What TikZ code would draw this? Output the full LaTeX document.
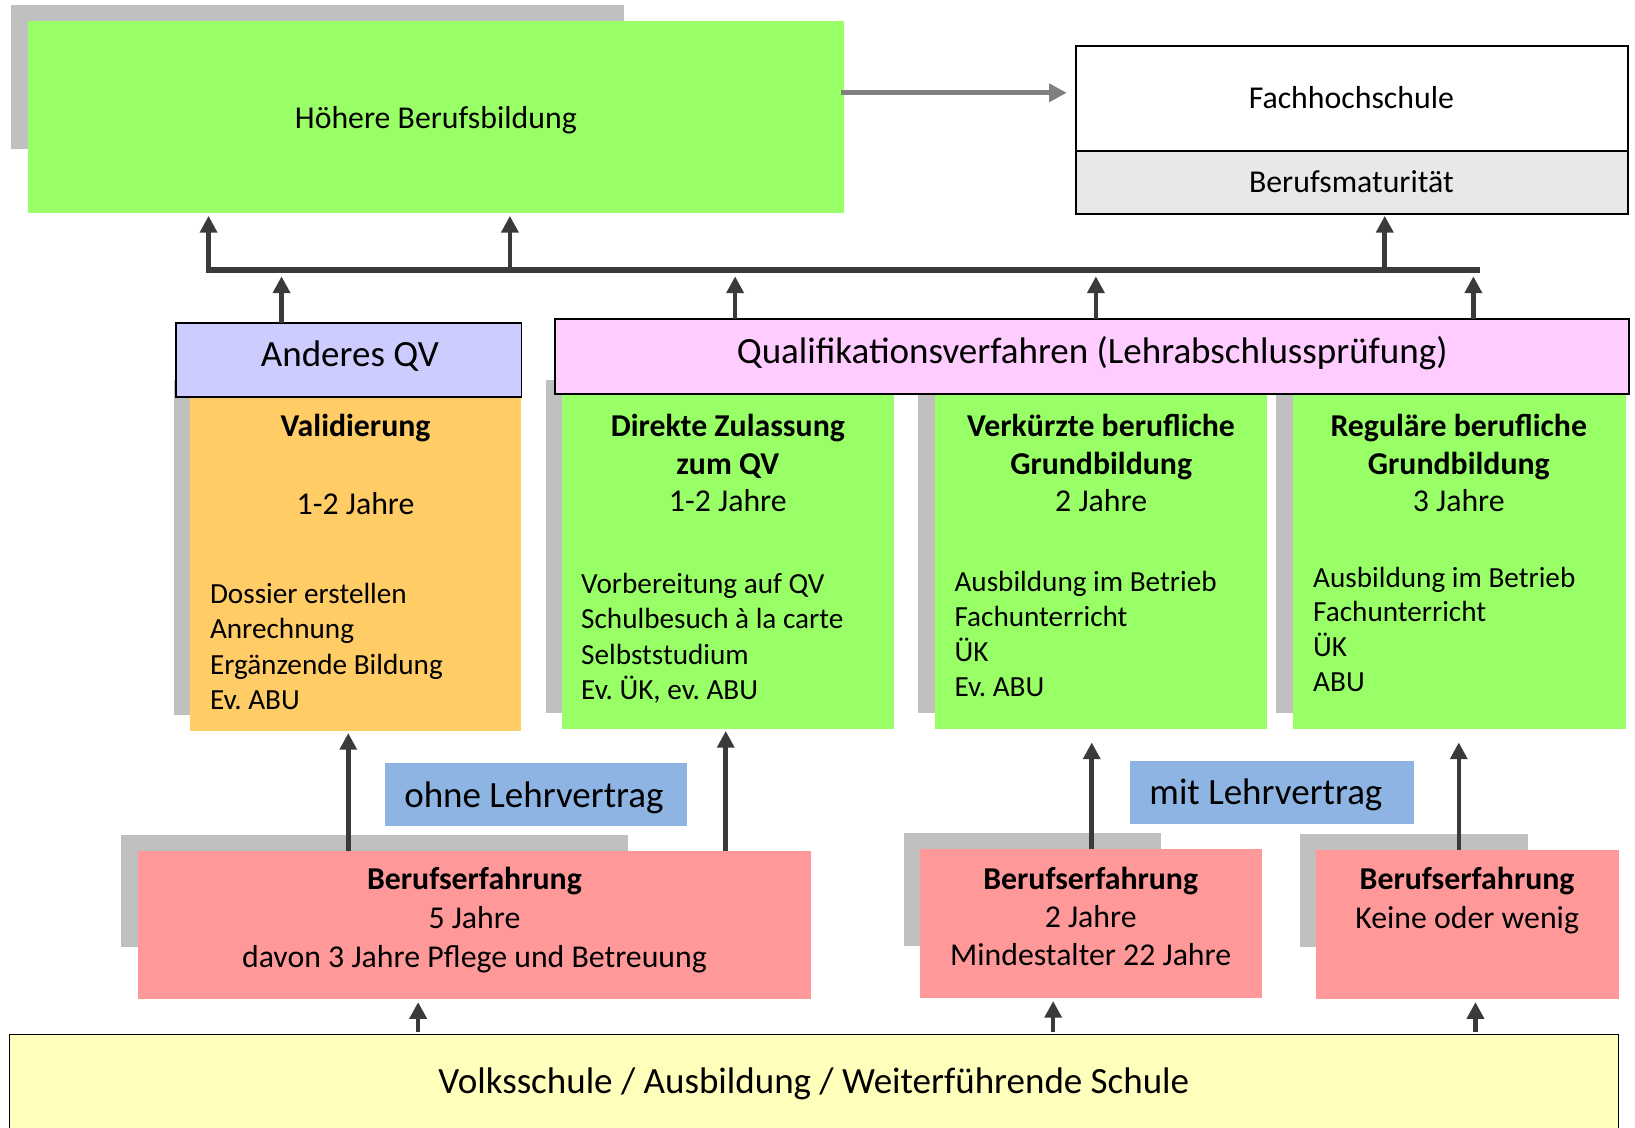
\documentclass[tikz,border=0pt]{standalone}
\usepackage{fontspec}
\setmainfont{Carlito}
\frenchspacing
\usetikzlibrary{arrows.meta,calc,fit,positioning}

\definecolor{gruen}{HTML}{99FF66}
\definecolor{ocker}{HTML}{FFCC66}
\definecolor{lila}{HTML}{CCCCFF}
\definecolor{rosa}{HTML}{FFCCFF}
\definecolor{bmgrau}{HTML}{E8E8E8}
\definecolor{hellblau}{HTML}{8EB4E3}
\definecolor{lachs}{HTML}{FF9999}
\definecolor{gelb}{HTML}{FFFFBB}
\definecolor{schatten}{HTML}{BFBFBF}
\definecolor{pfeil}{HTML}{3A3A3A}
\definecolor{pfeilgrau}{HTML}{808080}

\begin{document}
\begin{tikzpicture}[x=0.5pt,y=-0.5pt,
  feld/.style={inner sep=0pt,outer sep=0pt},
  rahmen/.style={feld,draw=black,line width=0.8pt},
  klein/.style={inner sep=0pt,font=\fontsize{14}{17}\selectfont},
  mittel/.style={inner sep=0pt,font=\fontsize{15.25}{18}\selectfont},
  gross/.style={inner sep=0pt,font=\fontsize{17.75}{21}\selectfont},
  pfeilo/.style={draw=pfeil,line width=2.2pt,-{Triangle[width=8pt,length=8pt]}},
  schiene/.style={draw=pfeil,line width=2.8pt,line cap=rect}]

  \useasboundingbox (0,0) rectangle (1568,1081);

  % schatten
  \fill[schatten] (11,5) rectangle (598,143);
  \foreach \xa/\ya/\xb/\yb in {167/364/485/686, 524/364/842/684, 880/364/1200/684,
      1224/364/1545/684, 116/801/602/908, 867/799/1113/907, 1247/800/1465/908}
    \fill[schatten] (\xa,\ya) rectangle (\xb,\yb);

  % oben
  \node[feld,fill=gruen,fit={(27,20) (809,204)}] (hbb) {};
  \node[rahmen,fill=white,fit={(1032,44) (1561,145)}] (fh) {};
  \node[rahmen,fill=bmgrau,fit={(1032,145) (1561,205)}] (bm) {};
  \node[mittel,anchor=base] (hbb-t) at (418,123) {Höhere Berufsbildung};
  \node[mittel,anchor=base] (fh-t) at (1296,104.5) {Fachhochschule};
  \node[mittel,anchor=base] (bm-t) at (1296,185) {Berufsmaturität};
  \draw[draw=pfeilgrau,line width=2.4pt,-{Triangle[width=8.5pt,length=8.5pt]}]
    ($(hbb.east)+(-2,-23)$) -- ($(fh.west)+(-9,-5.5)$);

  % spalten
  \node[feld,fill=ocker,fit={(182,381) (500,701)}] (val) {};
  \node[feld,fill=gruen,fit={(539,378) (857,699)}] (dir) {};
  \node[feld,fill=gruen,fit={(897,378) (1215,699)}] (verk) {};
  \node[feld,fill=gruen,fit={(1240,378) (1559,699)}] (reg) {};
  \node[rahmen,fill=lila,fit={(169,310) (500,381)}] (aqv) {};
  \node[rahmen,fill=rosa,fit={(532,306) (1562,378)}] (qv) {};
  \node[gross,anchor=base] (aqv-t) at (335.5,351.5) {Anderes QV};
  \node[gross,anchor=base] (qv-t) at (1047.5,348.5) {Qualifikationsverfahren (Lehrabschlussprüfung)};

  \node[mittel,anchor=base] (val-t0) at (341,419) {\textbf{Validierung}};
  \node[mittel,anchor=base] (val-t1) at (341,493) {1-2 Jahre};
  \foreach \txt [count=\i from 0] in {Dossier erstellen,Anrechnung,Ergänzende Bildung,Ev. ABU}
    \node[klein,anchor=base west] (val-l\i) at (201,{579+33.7*\i}) {\txt};

  \foreach \txt [count=\i from 0] in {\textbf{Direkte Zulassung},\textbf{zum QV},1-2 Jahre}
    \node[mittel,anchor=base] (dir-t\i) at (698,{419+36*\i}) {\txt};
  \foreach \txt [count=\i from 0] in {Vorbereitung auf QV,Schulbesuch à la carte,Selbststudium,{Ev. ÜK, ev. ABU}}
    \node[klein,anchor=base west] (dir-l\i) at (557,{569+33.9*\i}) {\txt};

  \foreach \txt [count=\i from 0] in {\textbf{Verkürzte berufliche},\textbf{Grundbildung},2 Jahre}
    \node[mittel,anchor=base] (verk-t\i) at (1056,{419+36*\i}) {\txt};
  \foreach \txt [count=\i from 0] in {Ausbildung im Betrieb,Fachunterricht,ÜK,Ev. ABU}
    \node[klein,anchor=base west] (verk-l\i) at (915,{567+33.7*\i}) {\txt};

  \foreach \txt [count=\i from 0] in {\textbf{Reguläre berufliche},\textbf{Grundbildung},3 Jahre}
    \node[mittel,anchor=base] (reg-t\i) at (1399,{419+36*\i}) {\txt};
  \foreach \txt [count=\i from 0] in {Ausbildung im Betrieb,Fachunterricht,ÜK,ABU}
    \node[klein,anchor=base west] (reg-l\i) at (1259,{563+33.5*\i}) {\txt};

  % sammelschiene
  \coordinate (s-w) at (200,259);
  \coordinate (s-e) at (1417,259);
  \coordinate (s-hbb) at (489,259);
  \coordinate (s-bm) at (1328,259);
  \draw[schiene] (s-e) -- (s-w);
  \draw[pfeilo,shorten >=1.5pt] (s-w) -- (hbb.south -| s-w);
  \draw[pfeilo,shorten >=1.5pt] (s-hbb) -- (hbb.south -| s-hbb);
  \draw[pfeilo,shorten >=1pt] (s-bm) -- (bm.south -| s-bm);
  \foreach \x/\n in {270/aqv,705/qv,1051/qv,1413/qv}{
    \coordinate (s-\x) at (\x,259);
    \draw[pfeilo,shorten >=3pt] (\n.north -| s-\x) -- (s-\x);
  }

  % unten
  \node[feld,fill=hellblau,fit={(369,732) (659,792)}] (ohne) {};
  \node[feld,fill=hellblau,fit={(1084,730) (1356,790)}] (mit) {};
  \node[gross,anchor=base] (ohne-t) at (512,774) {ohne Lehrvertrag};
  \node[gross,anchor=base] (mit-t) at (1214,772) {mit Lehrvertrag};
  \node[feld,fill=lachs,fit={(132,816) (778,958)}] (be1) {};
  \node[feld,fill=lachs,fit={(882,814) (1210,957)}] (be2) {};
  \node[feld,fill=lachs,fit={(1262,815) (1553,958)}] (be3) {};

  \foreach \txt [count=\i from 0] in {\textbf{Berufserfahrung},5 Jahre,davon 3 Jahre Pflege und Betreuung}
    \node[mittel,anchor=base] (be1-t\i) at (455,{853.5+37.3*\i}) {\txt};
  \foreach \txt [count=\i from 0] in {\textbf{Berufserfahrung},2 Jahre,Mindestalter 22 Jahre}
    \node[mittel,anchor=base] (be2-t\i) at (1046,{853+36.6*\i}) {\txt};
  \foreach \txt [count=\i from 0] in {\textbf{Berufserfahrung},Keine oder wenig}
    \node[mittel,anchor=base] (be3-t\i) at (1407,{853.5+37*\i}) {\txt};

  \node[rahmen,fill=gelb,fit={(9,992) (1552,1086)}] (vs) {};
  \node[gross,anchor=base] (vs-t) at (780.5,1048.5) {Volksschule / Ausbildung / Weiterführende Schule};

  \foreach \x/\von/\nach/\g in {334/be1/val/1pt,696/be1/dir/1pt,1047/be2/verk/6.5pt,1399/be3/reg/6.5pt}{
    \coordinate (u-\x) at (\x,0);
    \draw[pfeilo,shorten >=\g] (\von.north -| u-\x) -- (\nach.south -| u-\x);
  }
  \foreach \x/\nach in {401/be1,1010/be2,1415/be3}{
    \coordinate (v-\x) at (\x,0);
    \draw[pfeilo,shorten <=1pt,shorten >=1.5pt] (vs.north -| v-\x) -- (\nach.south -| v-\x);
  }

\end{tikzpicture}
\end{document}
